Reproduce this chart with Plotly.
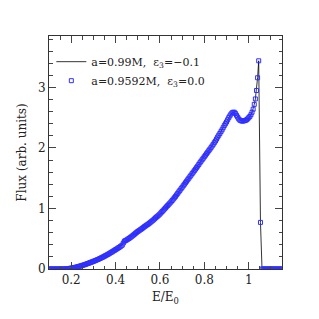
import plotly.graph_objects as go

energy = [
    0.100, 0.105, 0.110, 0.115, 0.120, 0.125, 0.130, 0.135, 0.140, 0.145,
    0.150, 0.155, 0.160, 0.165, 0.170, 0.175, 0.180, 0.185, 0.190, 0.195,
    0.200, 0.205, 0.210, 0.215, 0.220, 0.225, 0.230, 0.235, 0.240, 0.245,
    0.250, 0.255, 0.260, 0.265, 0.270, 0.275, 0.280, 0.285, 0.290, 0.295,
    0.300, 0.305, 0.310, 0.315, 0.320, 0.325, 0.330, 0.335, 0.340, 0.345,
    0.350, 0.355, 0.360, 0.365, 0.370, 0.375, 0.380, 0.385, 0.390, 0.395,
    0.400, 0.405, 0.410, 0.415, 0.420, 0.425, 0.430, 0.435, 0.440, 0.445,
    0.450, 0.455, 0.460, 0.465, 0.470, 0.475, 0.480, 0.485, 0.490, 0.495,
    0.500, 0.505, 0.510, 0.515, 0.520, 0.525, 0.530, 0.535, 0.540, 0.545,
    0.550, 0.555, 0.560, 0.565, 0.570, 0.575, 0.580, 0.585, 0.590, 0.595,
    0.600, 0.605, 0.610, 0.615, 0.620, 0.625, 0.630, 0.635, 0.640, 0.645,
    0.650, 0.655, 0.660, 0.665, 0.670, 0.675, 0.680, 0.685, 0.690, 0.695,
    0.700, 0.705, 0.710, 0.715, 0.720, 0.725, 0.730, 0.735, 0.740, 0.745,
    0.750, 0.755, 0.760, 0.765, 0.770, 0.775, 0.780, 0.785, 0.790, 0.795,
    0.800, 0.805, 0.810, 0.815, 0.820, 0.825, 0.830, 0.835, 0.840, 0.845,
    0.850, 0.855, 0.860, 0.865, 0.870, 0.875, 0.880, 0.885, 0.890, 0.895,
    0.900, 0.905, 0.910, 0.915, 0.920, 0.925, 0.930, 0.935, 0.940, 0.945,
    0.950, 0.955, 0.960, 0.965, 0.970, 0.975, 0.980, 0.985, 0.990, 0.995,
    1.000, 1.005, 1.010, 1.015, 1.020, 1.025, 1.030, 1.035, 1.040, 1.045,
    1.053, 1.060, 1.065, 1.070, 1.075, 1.080, 1.085, 1.090, 1.095, 1.100,
    1.105, 1.110, 1.115, 1.120, 1.125, 1.130, 1.135, 1.140, 1.145, 1.150,
]

flux_a099 = [
    0, 0, 0, 0, 0, 0, 0, 0, 0, 0,
    0, 0, 0, 0, 0.001, 0.002, 0.003, 0.005, 0.008, 0.011,
    0.014, 0.017, 0.021, 0.025, 0.029, 0.033, 0.038, 0.043, 0.048, 0.053,
    0.059, 0.065, 0.071, 0.077, 0.084, 0.091, 0.098, 0.105, 0.112, 0.119,
    0.126, 0.133, 0.141, 0.149, 0.157, 0.165, 0.174, 0.183, 0.192, 0.201,
    0.211, 0.221, 0.231, 0.241, 0.252, 0.263, 0.274, 0.285, 0.297, 0.308,
    0.320, 0.331, 0.343, 0.355, 0.367, 0.380, 0.395, 0.430, 0.460, 0.470,
    0.480, 0.492, 0.505, 0.517, 0.530, 0.545, 0.560, 0.575, 0.590, 0.605,
    0.620, 0.632, 0.645, 0.657, 0.670, 0.685, 0.700, 0.712, 0.725, 0.737,
    0.750, 0.765, 0.780, 0.795, 0.810, 0.827, 0.845, 0.860, 0.875, 0.892,
    0.910, 0.930, 0.950, 0.970, 0.990, 1.010, 1.030, 1.050, 1.070, 1.090,
    1.110, 1.132, 1.155, 1.177, 1.200, 1.225, 1.250, 1.275, 1.300, 1.325,
    1.350, 1.375, 1.400, 1.425, 1.450, 1.475, 1.500, 1.525, 1.550, 1.575,
    1.600, 1.625, 1.650, 1.675, 1.700, 1.727, 1.755, 1.780, 1.805, 1.830,
    1.855, 1.880, 1.905, 1.930, 1.955, 1.980, 2.005, 2.032, 2.060, 2.087,
    2.115, 2.147, 2.180, 2.210, 2.240, 2.270, 2.300, 2.335, 2.370, 2.400,
    2.430, 2.465, 2.500, 2.530, 2.560, 2.580, 2.590, 2.590, 2.570, 2.540,
    2.510, 2.480, 2.460, 2.450, 2.445, 2.445, 2.450, 2.455, 2.465, 2.480,
    2.500, 2.520, 2.550, 2.590, 2.640, 2.720, 2.810, 2.950, 3.160, 3.440,
    0.770, 0, 0, 0, 0, 0, 0, 0, 0, 0,
    0, 0, 0, 0, 0, 0, 0, 0, 0, 0,
]

flux_a09592 = list(flux_a099)

x_ticks = [0.2, 0.4, 0.6, 0.8, 1.0]
x_tick_labels = ["0.2", "0.4", "0.6", "0.8", "1"]
y_ticks = [0, 1, 2, 3]
y_tick_labels = ["0", "1", "2", "3"]

font_family = "DejaVu Serif"

fig = go.Figure()
fig.add_trace(go.Scatter(
    x=energy, y=flux_a099, mode="lines",
    line=dict(color="black", width=0.8),
    name="a=0.99M,  ε<sub>3</sub>=−0.1",
))
fig.add_trace(go.Scatter(
    x=energy, y=flux_a09592, mode="markers",
    marker=dict(symbol="square-open", size=4, color="#2f2fff", line=dict(width=1)),
    name="a=0.9592M,  ε<sub>3</sub>=0.0",
))

axis_common = dict(
    showgrid=False, zeroline=False, showline=True, linecolor="#333333",
    linewidth=1, mirror="allticks", ticks="inside", ticklen=7, tickwidth=1,
    tickcolor="#444444", tickfont=dict(family=font_family, size=12, color="#222222"),
)

fig.update_layout(
    width=319, height=319,
    margin=dict(l=41, r=45, t=28, b=58),
    paper_bgcolor="white", plot_bgcolor="white",
    font=dict(family=font_family, size=12, color="#222222"),
    showlegend=True,
    legend=dict(x=0.01, y=0.952, xanchor="left", yanchor="top",
                bgcolor="rgba(0,0,0,0)", font=dict(family=font_family, size=11),
                itemwidth=30, tracegroupgap=0),
    xaxis=dict(range=[0.1, 1.15], tickvals=x_ticks, ticktext=x_tick_labels,
               minor=dict(dtick=0.05, ticklen=3.5, ticks="inside", tickcolor="#444444"),
               title=dict(text="E/E<sub>0</sub>", font=dict(family=font_family, size=12), standoff=6),
               **axis_common),
    yaxis=dict(range=[0, 3.85], tickvals=y_ticks, ticktext=y_tick_labels,
               minor=dict(dtick=0.2, ticklen=3.5, ticks="inside", tickcolor="#444444"),
               title=dict(text="Flux (arb. units)", font=dict(family=font_family, size=12), standoff=8),
               **axis_common),
)

fig.write_html("out.html")
